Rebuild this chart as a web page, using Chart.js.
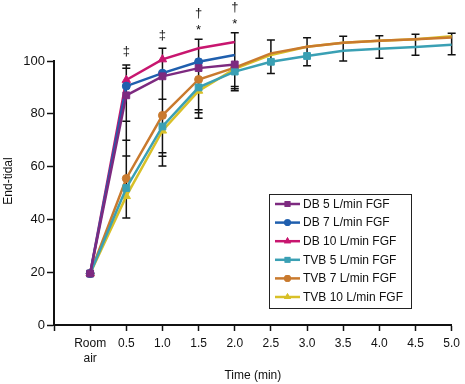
<!DOCTYPE html>
<html>
<head>
<meta charset="utf-8">
<script src="https://cdn.jsdelivr.net/npm/chart.js@4.4.1/dist/chart.umd.min.js"></script>
<style>
  html, body { margin: 0; padding: 0; background: #fff; }
  #wrap { width: 465px; height: 384px; }
</style>
</head>
<body>
<div id="wrap"><canvas id="chartEndTidal"></canvas></div>
<script>
// time points (0 = room air)
const times = [0, 0.5, 1.0, 1.5, 2.0, 2.5, 3.0, 3.5, 4.0, 4.5, 5.0];
const yTicks = [0, 20, 40, 60, 80, 100];

const db5 = [19.5, 87.0, 94.2, 97.3, 98.7];
const db7 = [19.5, 90.5, 95.4, 99.7, 102.3];
const db10 = [19.5, 92.8, 100.6, 104.8, 107.2];
const tvb5 = [19.5, 51.9, 75.2, 90.0, 96.0, 99.7, 101.9, 103.9, 104.6, 105.3, 106.2];
const tvb7 = [19.5, 55.5, 79.4, 93.0, 97.5, 102.9, 105.4, 106.9, 107.7, 108.2, 108.9];
const tvb10 = [19.5, 48.8, 73.6, 88.7, 97.0, 102.3, 105.4, 106.9, 107.7, 108.2, 109.4];

// error bar caps at each time point
const errTimes = [0.5, 1.0, 1.5, 2.0, 2.5, 3.0, 3.5, 4.0, 4.5, 5.0];
const errCaps = [
  [98.5, 97.3, 77.2, 70.0, 64.0, 40.5],
  [104.8, 85.5, 65.2, 63.9, 60.2],
  [108.2, 81.5, 80.4, 78.3],
  [110.7, 90.3, 89.5, 88.7],
  [108.0, 95.3],
  [108.8, 98.2],
  [109.4, 100.0],
  [109.6, 101.0],
  [110.1, 102.2],
  [110.5, 102.4]
];

// significance marks
const markTimes = [0.5, 1.0, 1.5, 1.5, 2.0, 2.0];
const markText = ['‡', '‡', '*', '†', '*', '†'];
const markVals = [103.5, 109.6, 111.5, 118.2, 113.7, 120.4];

const FONT = '"Liberation Sans", Arial, sans-serif';

function pts(vals) {
  return vals.map((v, i) => ({ x: times[i], y: v }));
}

function series(label, vals, color, style, r) {
  return {
    label: label,
    data: pts(vals),
    borderColor: color,
    backgroundColor: color,
    borderWidth: 2.5,
    pointStyle: style,
    pointRadius: r,
    pointHoverRadius: r,
    pointBorderWidth: 1,
    tension: 0,
    clip: false
  };
}

const errorBars = {
  id: 'errorBars',
  beforeDatasetsDraw(chart) {
    const ctx = chart.ctx, xs = chart.scales.x, ys = chart.scales.y;
    ctx.save();
    ctx.strokeStyle = '#111';
    ctx.lineWidth = 1.5;
    errTimes.forEach((t, i) => {
      const px = xs.getPixelForValue(t);
      const caps = errCaps[i];
      const top = ys.getPixelForValue(Math.max(...caps));
      const bot = ys.getPixelForValue(Math.min(...caps));
      ctx.beginPath();
      ctx.moveTo(px, top);
      ctx.lineTo(px, bot);
      caps.forEach(c => {
        const py = ys.getPixelForValue(c);
        ctx.moveTo(px - 4, py);
        ctx.lineTo(px + 4, py);
      });
      ctx.stroke();
    });
    ctx.restore();
  },
  afterDraw(chart) {
    const ctx = chart.ctx, xs = chart.scales.x, ys = chart.scales.y;
    ctx.save();
    ctx.fillStyle = '#111';
    ctx.textAlign = 'center';
    ctx.textBaseline = 'middle';
    ctx.font = '13px ' + FONT;
    markTimes.forEach((t, i) => {
      ctx.fillText(markText[i], xs.getPixelForValue(t), ys.getPixelForValue(markVals[i]));
    });

    // y axis title
    ctx.save();
    ctx.translate(9, 181);
    ctx.rotate(-Math.PI / 2);
    ctx.font = '12px ' + FONT;
    ctx.fillText('End-tidal', 0, 0);
    ctx.restore();

    // boxed legend
    const bx = 269, by = 194, bw = 142, bh = 114;
    ctx.fillStyle = '#fff';
    ctx.fillRect(bx, by, bw, bh);
    ctx.strokeStyle = '#222';
    ctx.lineWidth = 1;
    ctx.strokeRect(bx + 0.5, by + 0.5, bw, bh);
    ctx.font = '12px ' + FONT;
    ctx.textAlign = 'left';
    chart.data.datasets.forEach((ds, i) => {
      const ly = by + 10 + i * 18.6;
      ctx.strokeStyle = ds.borderColor;
      ctx.lineWidth = 2.5;
      ctx.beginPath();
      ctx.moveTo(bx + 6, ly);
      ctx.lineTo(bx + 31, ly);
      ctx.stroke();
      ctx.fillStyle = ds.borderColor;
      Chart.helpers.drawPoint(ctx, {
        pointStyle: ds.pointStyle, radius: ds.pointRadius * 0.85, borderWidth: 0
      }, bx + 18.5, ly);
      ctx.fill();
      ctx.fillStyle = '#111';
      ctx.fillText(ds.label, bx + 34, ly + 0.5);
    });
    ctx.restore();
  }
};

const ctxTidal = document.getElementById('chartEndTidal').getContext('2d');
new Chart(ctxTidal, {
  type: 'line',
  data: {
    datasets: [
      series('DB 5 L/min FGF', db5, '#7d2a80', 'rect', 4.8),
      series('DB 7 L/min FGF', db7, '#1f5fae', 'circle', 4),
      series('DB 10 L/min FGF', db10, '#c8166f', 'triangle', 4.8),
      series('TVB 5 L/min FGF', tvb5, '#3aa0b4', 'rect', 4.8),
      series('TVB 7 L/min FGF', tvb7, '#c97a2e', 'circle', 4),
      series('TVB 10 L/min FGF', tvb10, '#d8c028', 'triangle', 4.8)
    ]
  },
  options: {
    responsive: true,
    maintainAspectRatio: false,
    animation: false,
    layout: { padding: { left: 0, top: 61, right: 9, bottom: 0 } },
    plugins: {
      legend: { display: false },
      tooltip: { enabled: false }
    },
    scales: {
      x: {
        type: 'linear',
        min: -0.5,
        max: 5,
        afterFit(scale) { scale.height = 59; },
        afterBuildTicks(scale) {
          scale.ticks = [-0.5].concat(times).map(v => ({ value: v }));
        },
        grid: { display: true, drawOnChartArea: false, drawTicks: true, tickLength: 6, color: '#111', tickWidth: 1.5 },
        border: { display: true, color: '#111', width: 2 },
        ticks: {
          color: '#111',
          padding: 5,
          maxRotation: 0,
          autoSkip: false,
          font: { family: FONT, size: 12, lineHeight: 1.25 },
          callback: v => v === -0.5 ? '' : (v === 0 ? ['Room', 'air'] : v.toFixed(1))
        },
        title: {
          display: true,
          text: 'Time (min)',
          color: '#111',
          font: { family: FONT, size: 12 },
          padding: { top: 0, bottom: 1 }
        }
      },
      y: {
        min: 0,
        max: 100,
        afterFit(scale) { scale.width = 54; },
        afterBuildTicks(scale) {
          scale.ticks = yTicks.map(v => ({ value: v }));
        },
        grid: { display: true, drawOnChartArea: false, drawTicks: true, tickLength: 7, color: '#111', tickWidth: 1.5 },
        border: { display: true, color: '#111', width: 2 },
        ticks: {
          color: '#111',
          padding: 2,
          font: { family: FONT, size: 13 }
        }
      }
    }
  },
  plugins: [errorBars]
});
</script>
</body>
</html>
